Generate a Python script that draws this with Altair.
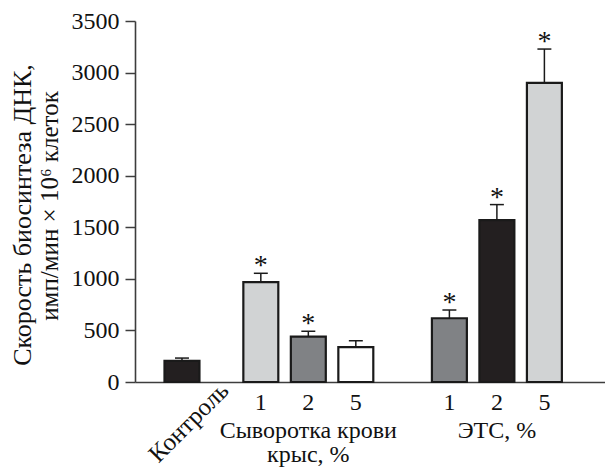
import altair as alt
import pandas as pd

# ---- data ----
labels = ["Контроль", "1", "2", "5", "1", "2", "5"]
groups = ["control", "serum", "serum", "serum", "ets", "ets", "ets"]
values = [205, 968, 440, 338, 618, 1570, 2900]
errors = [27, 86, 52, 62, 80, 150, 328]
fills = ["#231f20", "#d1d3d4", "#808285", "#ffffff", "#808285", "#231f20", "#d1d3d4"]
significant = [False, True, True, False, True, True, True]
group_titles = ["Сыворотка крови\nкрыс, %", "ЭТС, %"]
group_keys = ["serum", "ets"]
y_ticks = [0, 500, 1000, 1500, 2000, 2500, 3000, 3500]
y_title = ["Скорость биосинтеза ДНК,", "имп/мин × 10⁶ клеток"]

# ---- layout constants ----
group_offset = {"control": 0.0, "serum": 0.66, "ets": 1.63}
BAR_HALF = 0.368
CAP_HALF = 0.147
W, H = 470, 361
FONT = "Liberation Serif"

slots = [i + group_offset[g] for i, g in enumerate(groups)]
df = pd.DataFrame({
    "label": labels, "group": groups, "value": values, "err": errors,
    "fill": fills, "sig": significant, "slot": slots,
})
df["x0"] = df["slot"] - BAR_HALF
df["x1"] = df["slot"] + BAR_HALF
df["top"] = df["value"] + df["err"]
df["c0"] = df["slot"] - CAP_HALF
df["c1"] = df["slot"] + CAP_HALF
df["star"] = df["sig"].map(lambda s: "*" if s else "")

gdf = pd.DataFrame({
    "title": group_titles,
    "slot": [sum(df.loc[df.group == g, "slot"]) / 3 for g in group_keys],
})

xs = alt.Scale(domain=[-0.989, 8.906], nice=False, zero=False)
ys = alt.Scale(domain=[0, 3500], nice=False)

base = alt.Chart(df)

bars = base.mark_bar(stroke="#1a1a1a", strokeWidth=2.2).encode(
    x=alt.X("x0:Q", scale=xs, axis=alt.Axis(
        domain=True, domainColor="#3d3d3d", domainWidth=1.6,
        ticks=False, labels=False, grid=False, title=None)),
    x2="x1:Q",
    y=alt.Y("value:Q", scale=ys, axis=alt.Axis(
        values=y_ticks, format="d", grid=False, title=None, tickSize=10, tickWidth=1.5,
        tickColor="#3d3d3d", domainColor="#3d3d3d", domainWidth=1.6,
        labelFont=FONT, labelFontSize=24, labelColor="#111111", labelPadding=6)),
    y2=alt.datum(0),
    fill=alt.Fill("fill:N", scale=None),
)

err_line = base.mark_rule(color="#1a1a1a", strokeWidth=1.5).encode(
    x=alt.X("slot:Q", scale=xs), y=alt.Y("value:Q", scale=ys), y2="top:Q")
err_cap = base.mark_rule(color="#1a1a1a", strokeWidth=1.5).encode(
    x=alt.X("c0:Q", scale=xs), x2="c1:Q", y=alt.Y("top:Q", scale=ys))

stars = base.mark_text(font=FONT, fontSize=28, color="#111111",
                       baseline="alphabetic", dy=1).encode(
    x=alt.X("slot:Q", scale=xs), y=alt.Y("top:Q", scale=ys), text="star:N")

nums = base.transform_filter("datum.group != 'control'").mark_text(
    font=FONT, fontSize=24, color="#111111", baseline="alphabetic").encode(
    x=alt.X("slot:Q", scale=xs), y=alt.value(389), text="label:N")

ctrl = base.transform_filter("datum.group == 'control'").mark_text(
    font=FONT, fontSize=25, color="#111111", align="right", baseline="top",
    angle=315, dx=48).encode(
    x=alt.X("slot:Q", scale=xs), y=alt.value(391), text="label:N")

gtitles = alt.Chart(gdf).mark_text(
    font=FONT, fontSize=24, color="#111111", baseline="alphabetic",
    lineBreak="\n", lineHeight=24).encode(
    x=alt.X("slot:Q", scale=xs),
    y=alt.value(417),
    text="title:N")

ttl = pd.DataFrame({"t": y_title, "line": [0, 1]})
ytitle1 = alt.Chart(ttl).transform_filter("datum.line == 0").mark_text(
    font=FONT, fontSize=26, color="#111111", angle=270, baseline="middle").encode(
    x=alt.value(-112), y=alt.value(194), text="t:N")
ytitle2 = alt.Chart(ttl).transform_filter("datum.line == 1").mark_text(
    font=FONT, fontSize=25, color="#111111", angle=270, baseline="middle").encode(
    x=alt.value(-85), y=alt.value(185), text="t:N")

chart = alt.layer(bars, err_line, err_cap, stars, nums, ctrl, gtitles,
                  ytitle1, ytitle2).properties(
    width=W, height=H,
    autosize=alt.AutoSizeParams(type="none"),
    padding={"left": 127, "top": 13, "right": 0, "bottom": 88},
    background="white",
).configure_view(stroke=None)

chart.save("out.html", embed_options={"renderer": "svg", "actions": False})
